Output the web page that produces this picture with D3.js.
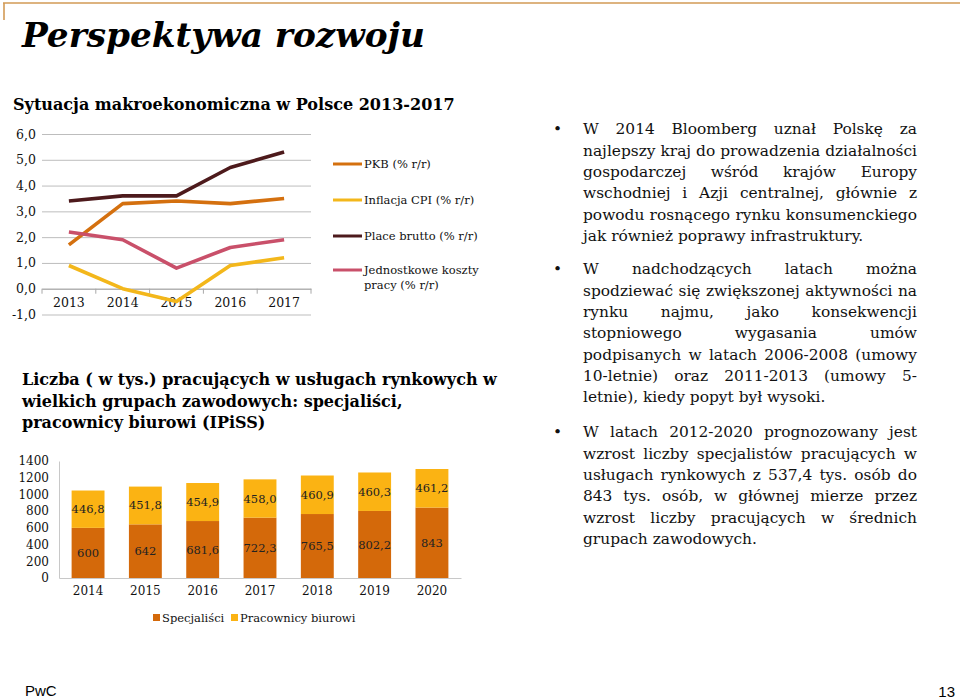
<!DOCTYPE html>
<html><head><meta charset="utf-8">
<script src="https://cdn.jsdelivr.net/npm/d3@7/dist/d3.min.js"></script>
<style>
html,body{margin:0;padding:0;background:#fff;}
svg{display:block;}
</style></head>
<body>
<script>
// ---------- DATA ----------
const lineYears = ["2013","2014","2015","2016","2017"];
const pkb        = [1.7, 3.3, 3.4, 3.3, 3.5];
const inflacja   = [0.9, 0.0, -0.5, 0.9, 1.2];
const place      = [3.4, 3.6, 3.6, 4.7, 5.3];
const koszty     = [2.2, 1.9, 0.8, 1.6, 1.9];
const lineTicks  = [-1, 0, 1, 2, 3, 4, 5, 6];
const lineNames  = ["PKB (% r/r)", "Inflacja CPI (% r/r)", "Place brutto (% r/r)", "Jednostkowe koszty|pracy (% r/r)"];

const barYears   = ["2014","2015","2016","2017","2018","2019","2020"];
const specjalisci = [600, 642, 681.6, 722.3, 765.5, 802.2, 843];
const pracownicy  = [446.8, 451.8, 454.9, 458.0, 460.9, 460.3, 461.2];
const barTicks   = [0, 200, 400, 600, 800, 1000, 1200, 1400];
const barNames   = ["Specjaliści", "Pracownicy biurowi"];

const para1 = ["W 2014 Bloomberg uznał Polskę za","najlepszy kraj do prowadzenia działalności","gospodarczej wśród krajów Europy","wschodniej i Azji centralnej, głównie z","powodu rosnącego rynku konsumenckiego","jak również poprawy infrastruktury."];
const para2 = ["W nadchodzących latach można","spodziewać się zwiększonej aktywności na","rynku najmu, jako konsekwencji","stopniowego wygasania umów","podpisanych w latach 2006-2008 (umowy","10-letnie) oraz 2011-2013 (umowy 5-","letnie), kiedy popyt był wysoki."];
const para3 = ["W latach 2012-2020 prognozowany jest","wzrost liczby specjalistów pracujących w","usługach rynkowych z 537,4 tys. osób do","843 tys. osób, w głównej mierze przez","wzrost liczby pracujących w średnich","grupach zawodowych."];

// ---------- STYLE ----------
const SERIF = "Georgia, 'DejaVu Serif', serif";
const lineColors = ["#d4700f", "#f3b71b", "#4d1a1c", "#c9506a"];
const barColors  = ["#d4690a", "#fbb313"];
const TXT = "#111";

const svg = d3.select("body").append("svg").attr("width",960).attr("height",700)
  .style("background","#fff");

function fit(sel, target){
  const fs = parseFloat(sel.attr("font-size"));
  const w = sel.node().getComputedTextLength();
  sel.attr("font-size", fs*target/w);
  return fs*target/w;
}

// frame
svg.append("line").attr("x1",3).attr("x2",960).attr("y1",3).attr("y2",3).attr("stroke","#d29a55").attr("stroke-width",1.6);
svg.append("line").attr("x1",4).attr("x2",4).attr("y1",3).attr("y2",20).attr("stroke","#d29a55").attr("stroke-width",1.6);

// titles
const t1 = svg.append("text").attr("x",22).attr("y",47).attr("font-family",SERIF)
  .attr("font-weight","bold").attr("font-style","italic").attr("font-size",36).attr("fill","#000")
  .text("Perspektywa rozwoju");
fit(t1, 403);

const t2 = svg.append("text").attr("x",13).attr("y",110).attr("font-family",SERIF)
  .attr("font-weight","bold").attr("font-size",18).attr("fill","#000")
  .text("Sytuacja makroekonomiczna w Polsce 2013-2017");
const t2fs = fit(t2, 442);

const bt = ["Liczba ( w tys.) pracujących w usługach rynkowych w","wielkich grupach zawodowych: specjaliści,","pracownicy biurowi (IPiSS)"];
const btSel = svg.append("g");
bt.forEach((s,i)=>{
  btSel.append("text").attr("x",22).attr("y",385+i*21.5).attr("font-family",SERIF)
    .attr("font-weight","bold").attr("font-size",t2fs).attr("fill","#000").text(s);
});
fit(btSel.select("text"), 475);
btSel.selectAll("text").attr("font-size", btSel.select("text").attr("font-size"));

// ---------- LINE CHART ----------
const lx = d3.scaleBand().domain(lineYears).range([42, 311]);
const ly = d3.scaleLinear().domain([-1, 6]).range([314.5, 134]);
const fmt1 = d => d.toFixed(1).replace(".", ",");

const lg = svg.append("g");
lg.append("g").attr("transform","translate(42,0)")
  .call(d3.axisLeft(ly).tickValues(lineTicks).tickSize(-(311-42)).tickPadding(6).tickFormat(fmt1))
  .call(g=>{
    g.select(".domain").remove();
    g.selectAll(".tick line").attr("stroke","#bdbdbd").attr("stroke-width",1);
    g.selectAll(".tick text").attr("font-family",SERIF).attr("font-size",12.5).attr("fill",TXT);
  });
// x axis at 0
lg.append("g").attr("transform",`translate(0,${ly(0)})`)
  .call(d3.axisBottom(lx).tickSize(0).tickPadding(9))
  .call(g=>{
    g.select(".domain").attr("stroke","#a8a8a8");
    g.selectAll(".tick text").attr("font-family",SERIF).attr("font-size",12.5).attr("fill",TXT);
  });
const bounds = lineYears.map(d=>lx(d)).concat([lx.range()[1]]);
lg.selectAll(".btick").data(bounds).enter().append("line")
  .attr("x1",d=>d).attr("x2",d=>d).attr("y1",ly(0)).attr("y2",ly(0)+5)
  .attr("stroke","#a8a8a8");

const series = [pkb, inflacja, place, koszty];
const lineGen = d3.line().x((d,i)=>lx(lineYears[i])+lx.bandwidth()/2).y(d=>ly(d));
series.forEach((s,i)=>{
  lg.append("path").attr("d",lineGen(s)).attr("fill","none")
    .attr("stroke",lineColors[i]).attr("stroke-width",3.6).attr("stroke-linejoin","round");
});

// legend
const legY = [164, 200, 236, 270];
lineNames.forEach((n,i)=>{
  lg.append("line").attr("x1",333).attr("x2",362).attr("y1",legY[i]).attr("y2",legY[i])
    .attr("stroke",lineColors[i]).attr("stroke-width",3);
  n.split("|").forEach((p,j)=>{
    lg.append("text").attr("x",364).attr("y",legY[i]+j*15).attr("dy","0.35em")
      .attr("font-family",SERIF).attr("font-size",11.5).attr("fill",TXT).text(p);
  });
});

// ---------- BAR CHART ----------
const bx = d3.scaleBand().domain(barYears).range([59, 461]).paddingInner(0.426).paddingOuter(0.22);
const by = d3.scaleLinear().domain([0, 1400]).range([578, 461]);
const bg = svg.append("g");

bg.append("g").attr("transform","translate(59,0)")
  .call(d3.axisLeft(by).tickValues(barTicks).tickSize(0).tickPadding(10).tickFormat(d3.format("d")))
  .call(g=>{
    g.select(".domain").attr("stroke","#c8c8c8");
    g.selectAll(".tick text").attr("font-family",SERIF).attr("font-size",12).attr("fill",TXT);
  });

const stacked = barYears.map((y,i)=>({year:y, s:specjalisci[i], p:pracownicy[i]}));
bg.selectAll(".bs").data(stacked).enter().append("rect")
  .attr("x",d=>bx(d.year)).attr("width",bx.bandwidth())
  .attr("y",d=>by(d.s)).attr("height",d=>by(0)-by(d.s)).attr("fill",barColors[0]);
bg.selectAll(".bp").data(stacked).enter().append("rect")
  .attr("x",d=>bx(d.year)).attr("width",bx.bandwidth())
  .attr("y",d=>by(d.s+d.p)).attr("height",d=>by(d.s)-by(d.s+d.p)).attr("fill",barColors[1]);

bg.selectAll(".ls").data(stacked).enter().append("text")
  .attr("x",d=>bx(d.year)+bx.bandwidth()/2).attr("y",d=>by(d.s/2)).attr("dy","0.35em")
  .attr("text-anchor","middle").attr("font-family",SERIF).attr("font-size",11.5).attr("fill","#222")
  .text(d=>String(d.s).replace(".", ","));
bg.selectAll(".lp").data(stacked).enter().append("text")
  .attr("x",d=>bx(d.year)+bx.bandwidth()/2).attr("y",d=>by(d.s+d.p/2)).attr("dy","0.35em")
  .attr("text-anchor","middle").attr("font-family",SERIF).attr("font-size",11.5).attr("fill","#222")
  .text(d=>fmt1(d.p));

bg.append("g").attr("transform","translate(0,578)")
  .call(d3.axisBottom(bx).tickSize(0).tickPadding(8))
  .call(g=>{
    g.select(".domain").attr("stroke","#c8c8c8");
    g.selectAll(".tick text").attr("font-family",SERIF).attr("font-size",12).attr("fill",TXT);
  });

// bar legend
const blx = [153, 231];
barNames.forEach((n,i)=>{
  bg.append("rect").attr("x",blx[i]).attr("y",614).attr("width",7).attr("height",7).attr("fill",barColors[i]);
  bg.append("text").attr("x",blx[i]+9).attr("y",618).attr("dy","0.35em")
    .attr("font-family",SERIF).attr("font-size",11.5).attr("fill",TXT).text(n);
});

// ---------- RIGHT TEXT ----------
const X0 = 583, X1 = 917;
const probe = svg.append("text").attr("font-family",SERIF).attr("font-size",16).text(para1[1]);
const bodyFs = 16*(X1-X0)/probe.node().getComputedTextLength();
probe.remove();

function measure(s){
  const t = svg.append("text").attr("font-family",SERIF).attr("font-size",bodyFs).text(s);
  const w = t.node().getComputedTextLength(); t.remove(); return w;
}
function para(lines, y0, lh){
  svg.append("text").attr("x",553).attr("y",y0).attr("dy","0.35em")
    .attr("font-family",SERIF).attr("font-size",bodyFs).attr("fill",TXT).text("•");
  lines.forEach((ln,i)=>{
    const y = y0 + i*lh;
    const g = svg.append("text").attr("y",y).attr("dy","0.35em")
      .attr("font-family",SERIF).attr("font-size",bodyFs).attr("fill",TXT);
    if(i === lines.length-1){
      g.attr("x",X0).text(ln);
    } else {
      const words = ln.split(" ");
      const ws = words.map(measure);
      const gap = (X1-X0-d3.sum(ws))/(words.length-1);
      let x = X0;
      words.forEach((w,k)=>{
        g.append("tspan").attr("x",x).text(w);
        x += ws[k] + gap;
      });
    }
  });
}
para(para1, 129, 21.3);
para(para2, 269, 21.3);
para(para3, 432, 21.3);

// footer
svg.append("text").attr("x",25).attr("y",691).attr("dy","0.35em")
  .attr("font-family","'Liberation Sans Narrow','Liberation Sans',sans-serif").attr("font-size",15).attr("fill","#000").text("PwC");
svg.append("text").attr("x",955).attr("y",692).attr("dy","0.35em").attr("text-anchor","end")
  .attr("font-family","'Liberation Sans Narrow','Liberation Sans',sans-serif").attr("font-size",15).attr("fill","#000").text("13");
</script>
</body></html>
